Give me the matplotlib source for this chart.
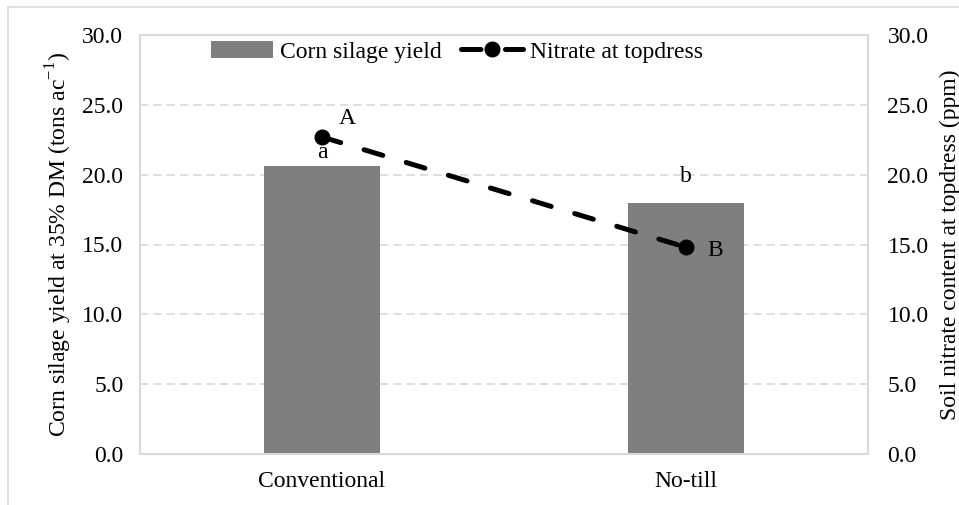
import matplotlib.pyplot as plt
from matplotlib.patches import Rectangle

plt.rcParams['font.family'] = 'Liberation Serif'
plt.rcParams['mathtext.fontset'] = 'custom'
plt.rcParams['mathtext.rm'] = 'Liberation Serif'

# data
systems = ['Conventional', 'No-till']
yield_tons = [20.6, 17.95]
nitrate_ppm = [22.7, 14.8]
yield_letters = ['a', 'b']
nitrate_letters = ['A', 'B']
yticks = [0, 5, 10, 15, 20, 25, 30]

grid_col = '#d9d9d9'
fs = 17

fig = plt.figure(figsize=(9.59, 5.05), dpi=100)
# outer chart border (cropped on right/bottom)
fig.patches.append(Rectangle((8 / 959, -0.1), 1.2, (505 - 7) / 505 + 0.1,
                             transform=fig.transFigure, fill=False,
                             edgecolor=grid_col, lw=1.2))

ax = fig.add_axes([140 / 959, 51 / 505, 728 / 959, 419 / 505])
x = [0, 1]
bars = ax.bar(x, yield_tons, width=0.316, color='#7f7f7f', label='Corn silage yield', zorder=2)
ax.set_xlim(-0.5, 1.5)
ax.set_ylim(0, 30)
ax.set_yticks(yticks)
ax.set_yticklabels([f'{v:.1f}' for v in yticks], fontsize=fs)
ax.set_xticks(x)
ax.set_xticklabels(systems, fontsize=fs)
ax.tick_params(length=0, pad=12)
ax.tick_params(axis='x', pad=12)
for v in yticks[1:-1]:
    ax.axhline(v, color=grid_col, lw=1.2, ls=(0, (5, 3)), zorder=1)
for s in ax.spines.values():
    s.set_color(grid_col)
    s.set_linewidth(1.5)
ax.set_ylabel('Corn silage yield at 35% DM (tons ac$^{\\mathregular{-1}}$)', fontsize=fs, labelpad=6)

# letter labels above bars
ax.text(x[0], yield_tons[0] + 0.2, yield_letters[0], ha='center', va='bottom', fontsize=fs)
ax.text(x[1], yield_tons[1] + 1.2, yield_letters[1], ha='center', va='bottom', fontsize=fs)

ax2 = ax.twinx()
ax2.set_ylim(0, 30)
ax2.set_yticks(yticks)
ax2.set_yticklabels([f'{v:.1f}' for v in yticks], fontsize=fs)
ax2.tick_params(length=0, pad=14)
for s in ax2.spines.values():
    s.set_visible(False)
ln, = ax2.plot(x, nitrate_ppm, color='black', lw=3.6, ls=(0, (3.9, 4.9)),
               dash_capstyle='round', marker='o', markersize=10.5,
               label='Nitrate at topdress', zorder=3)
ax2.set_ylabel('Soil nitrate content at topdress (ppm)', fontsize=fs, labelpad=8)

ax2.text(x[0] + 0.07, nitrate_ppm[0] + 0.6, nitrate_letters[0], ha='center', va='bottom', fontsize=fs)
ax2.text(x[1] + 0.06, nitrate_ppm[1] - 0.2, nitrate_letters[1], ha='left', va='center', fontsize=fs)

fig.legend([bars, ln], ['Corn silage yield', 'Nitrate at topdress'], ncol=2,
           loc='center', bbox_to_anchor=(457 / 959, 1 - 52 / 505), frameon=False,
           fontsize=fs, handlelength=2.6, handletextpad=0.3, columnspacing=0.85)

fig.savefig('out.png', dpi=100)
